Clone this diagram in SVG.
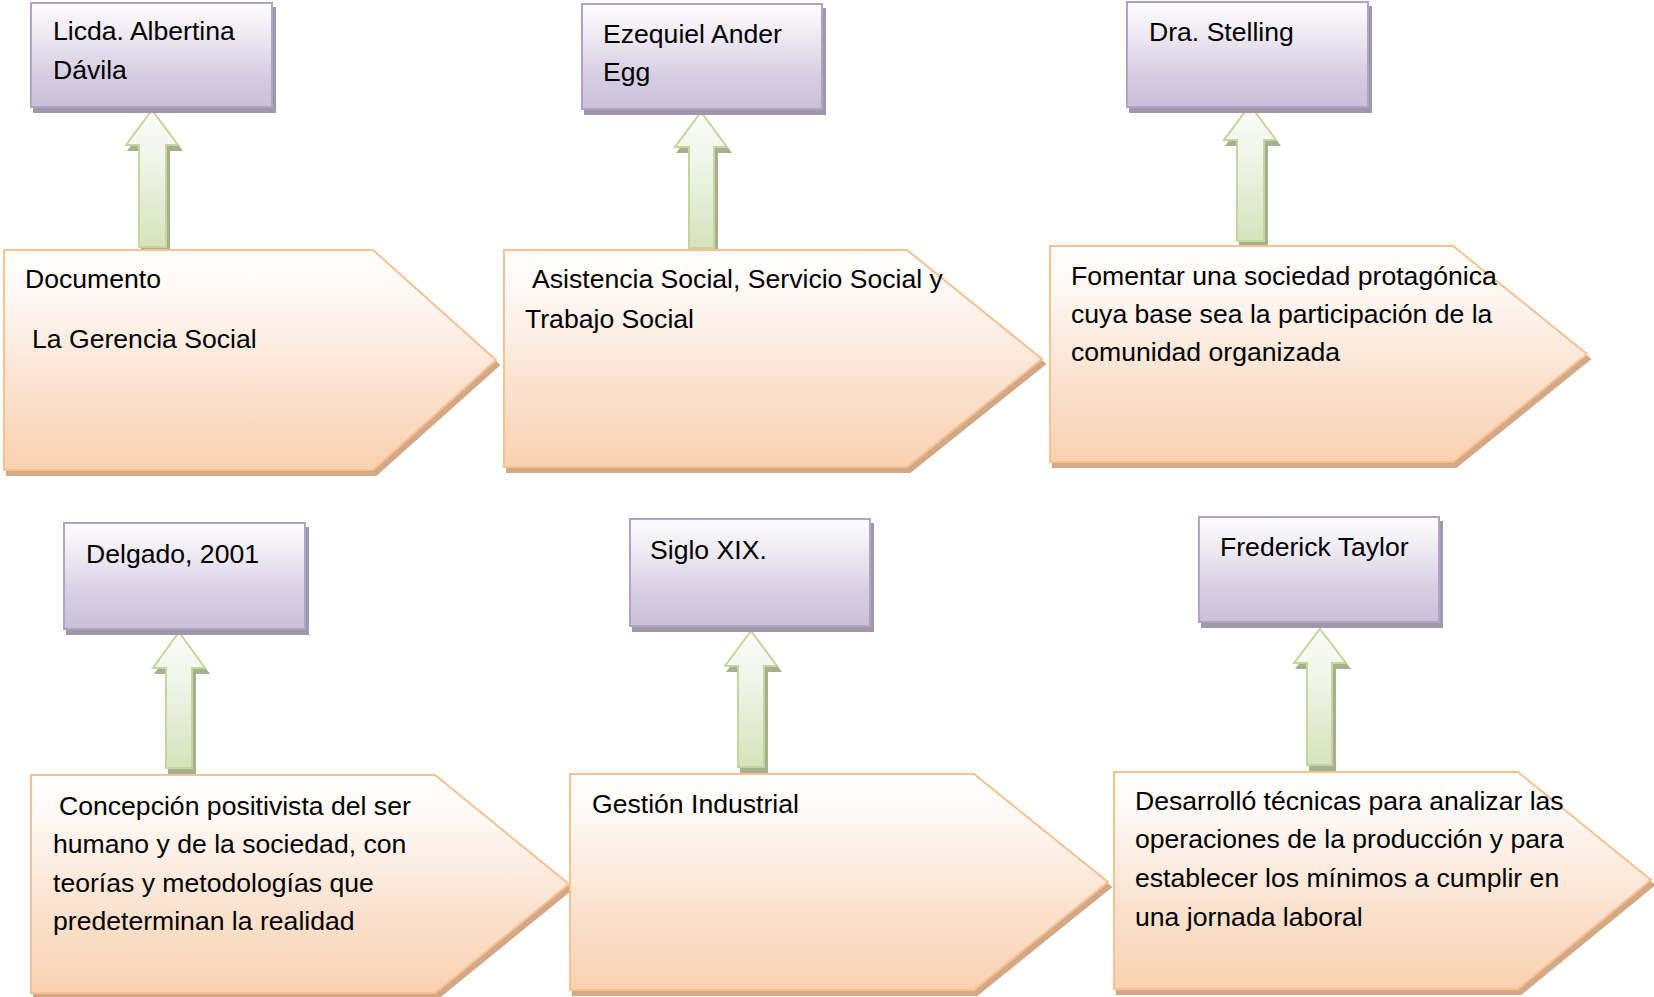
<svg xmlns="http://www.w3.org/2000/svg" width="1654" height="997" viewBox="0 0 1654 997">
<defs>
<linearGradient id="gBox" x1="0" y1="0" x2="0" y2="1">
<stop offset="0" stop-color="#fdfdfe"/>
<stop offset="0.3" stop-color="#eeeaf3"/>
<stop offset="0.7" stop-color="#d6cce2"/>
<stop offset="1" stop-color="#cbbfd9"/>
</linearGradient>
<linearGradient id="gArr" x1="0" y1="0" x2="0" y2="1">
<stop offset="0" stop-color="#fbfcf9"/>
<stop offset="0.35" stop-color="#f1f5ea"/>
<stop offset="1" stop-color="#d6e3bc"/>
</linearGradient>
<linearGradient id="gPen" x1="0" y1="0" x2="0" y2="1">
<stop offset="0" stop-color="#ffffff"/>
<stop offset="0.2" stop-color="#fef8f4"/>
<stop offset="0.6" stop-color="#fbe3d1"/>
<stop offset="1" stop-color="#f9d1b0"/>
</linearGradient>
<filter id="shBox" x="-5%" y="-5%" width="112%" height="115%">
<feOffset in="SourceAlpha" dx="3" dy="5" result="o"/>
<feFlood flood-color="#a098aa"/>
<feComposite in2="o" operator="in" result="s"/>
<feMerge><feMergeNode in="s"/><feMergeNode in="SourceGraphic"/></feMerge>
</filter>
<filter id="shArr" x="-10%" y="-5%" width="130%" height="115%">
<feOffset in="SourceAlpha" dx="3" dy="5" result="o"/>
<feFlood flood-color="#a6b08f"/>
<feComposite in2="o" operator="in" result="s"/>
<feMerge><feMergeNode in="s"/><feMergeNode in="SourceGraphic"/></feMerge>
</filter>
<filter id="shPen" x="-5%" y="-5%" width="112%" height="115%">
<feOffset in="SourceAlpha" dx="3" dy="5" result="o"/>
<feFlood flood-color="#d2a886"/>
<feComposite in2="o" operator="in" result="s"/>
<feMerge><feMergeNode in="s"/><feMergeNode in="SourceGraphic"/></feMerge>
</filter>
</defs>
<style>
.box{fill:url(#gBox);stroke:#b3a2c7;stroke-width:2;filter:url(#shBox)}
.arr{fill:url(#gArr);stroke:#c3d69b;stroke-width:2;filter:url(#shArr)}
.pen{fill:url(#gPen);stroke:#fac090;stroke-width:2;filter:url(#shPen)}
text{font-family:"Liberation Sans",Arial,sans-serif;font-size:26.6px;fill:#000}
</style>
<rect width="1654" height="997" fill="#ffffff"/>

<g id="connectors">
<polygon class="arr" points="152,110 178,145 166,145 166,247 139,247 139,145 126,145"/>
<polygon class="arr" points="701,112 727,147 714,147 714,248 689,248 689,147 675,147"/>
<polygon class="arr" points="1250,105 1276,140 1264,140 1264,241 1237,241 1237,140 1224,140"/>
<polygon class="arr" points="179,632 205,668 192,668 192,768 166,768 166,668 153,668"/>
<polygon class="arr" points="751,631 777,666 764,666 764,767 738,767 738,666 725,666"/>
<polygon class="arr" points="1320,629 1346,663 1332,663 1332,765 1307,765 1307,663 1294,663"/>
</g>

<g id="box1">
<rect class="box" x="31" y="3" width="241" height="104"/>
<text x="53" y="40">Licda. Albertina</text>
<text x="53" y="79">Dávila</text>
</g>
<g id="box2">
<rect class="box" x="582" y="4" width="240" height="105"/>
<text x="603" y="43">Ezequiel Ander</text>
<text x="603" y="81">Egg</text>
</g>
<g id="box3">
<rect class="box" x="1127" y="2" width="241" height="105"/>
<text x="1149" y="41">Dra. Stelling</text>
</g>
<g id="box4">
<rect class="box" x="64" y="523" width="241" height="106"/>
<text x="86" y="563">Delgado, 2001</text>
</g>
<g id="box5">
<rect class="box" x="630" y="519" width="240" height="107"/>
<text x="650" y="559">Siglo XIX.</text>
</g>
<g id="box6">
<rect class="box" x="1199" y="517" width="240" height="105"/>
<text x="1220" y="556">Frederick Taylor</text>
</g>

<g id="pent1">
<polygon class="pen" points="4,250 373,250 496,360 373,470 4,470"/>
<text x="25" y="288">Documento</text>
<text x="32" y="348">La Gerencia Social</text>
</g>
<g id="pent2">
<polygon class="pen" points="504,250 907,250 1042,359 907,467 504,467"/>
<text x="532" y="288">Asistencia Social, Servicio Social y</text>
<text x="525" y="328">Trabajo Social</text>
</g>
<g id="pent3">
<polygon class="pen" points="1050,246 1453,246 1587,354 1453,462 1050,462"/>
<text x="1071" y="285">Fomentar una sociedad protagónica</text>
<text x="1071" y="323">cuya base sea la participación de la</text>
<text x="1071" y="361">comunidad organizada</text>
</g>
<g id="pent4">
<polygon class="pen" points="31,775 435,775 569,884 435,993 31,993"/>
<text x="59" y="815">Concepción positivista del ser</text>
<text x="53" y="853">humano y de la sociedad, con</text>
<text x="53" y="892">teorías y metodologías que</text>
<text x="53" y="930">predeterminan la realidad</text>
</g>
<g id="pent5">
<polygon class="pen" points="570,774 974,774 1108,882 974,990 570,990"/>
<text x="592" y="813">Gestión Industrial</text>
</g>
<g id="pent6">
<polygon class="pen" points="1114,772 1518,772 1651,880 1518,989 1114,989"/>
<text x="1135" y="810">Desarrolló técnicas para analizar las</text>
<text x="1135" y="848">operaciones de la producción y para</text>
<text x="1135" y="887">establecer los mínimos a cumplir en</text>
<text x="1135" y="926">una jornada laboral</text>
</g>
</svg>
